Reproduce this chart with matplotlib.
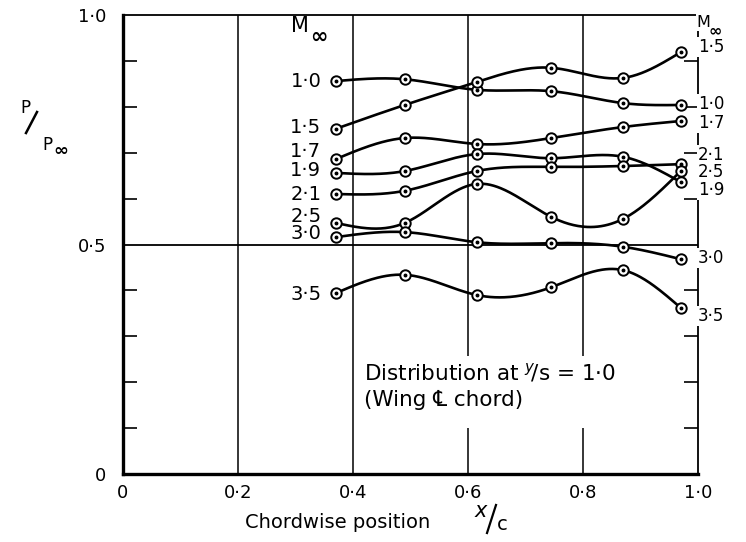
import numpy as np
import matplotlib
matplotlib.use("Agg")
import matplotlib.pyplot as plt
from matplotlib.lines import Line2D
from matplotlib.patches import Rectangle

# Chordwise stations (x/c) where pressures were measured
x_c = [0.37, 0.49, 0.615, 0.745, 0.87, 0.97]

# p/p_inf at each station, one list per free-stream Mach number
p_m10 = [0.856, 0.860, 0.837, 0.834, 0.808, 0.804]
p_m15 = [0.752, 0.804, 0.854, 0.885, 0.863, 0.919]
p_m17 = [0.686, 0.732, 0.719, 0.732, 0.756, 0.769]
p_m19 = [0.656, 0.660, 0.697, 0.688, 0.691, 0.636]
p_m21 = [0.610, 0.617, 0.660, 0.669, 0.671, 0.675]
p_m25 = [0.547, 0.547, 0.632, 0.560, 0.556, 0.660]
p_m30 = [0.516, 0.527, 0.505, 0.503, 0.495, 0.468]
p_m35 = [0.394, 0.434, 0.390, 0.407, 0.444, 0.362]

mach_labels = ["1·0", "1·5", "1·7", "1·9", "2·1", "2·5", "3·0", "3·5"]
series = [p_m10, p_m15, p_m17, p_m19, p_m21, p_m25, p_m30, p_m35]

x_ticks = [0, 0.2, 0.4, 0.6, 0.8, 1.0]
x_tick_labels = ["0", "0·2", "0·4", "0·6", "0·8", "1·0"]
y_ticks = [0, 0.5, 1.0]
y_tick_labels = ["0", "0·5", "1·0"]

# label placement (y of the Mach tags at both ends of each curve)
left_tag_y = [0.856, 0.754, 0.702, 0.662, 0.610, 0.562, 0.523, 0.392]
right_tag_y = [0.806, 0.930, 0.765, 0.619, 0.695, 0.658, 0.471, 0.344]

FONT = ["DejaVu Sans", "Noto Sans", "Noto Sans CJK SC"]
plt.rcParams["font.family"] = FONT
plt.rcParams["mathtext.fontset"] = "dejavusans"


def natural_spline(xs, ys, n=300):
    """Smooth curve through the measured points (natural cubic spline)."""
    xs = np.asarray(xs, float)
    ys = np.asarray(ys, float)
    k = len(xs)
    h = np.diff(xs)
    A = np.zeros((k, k))
    b = np.zeros(k)
    A[0, 0] = A[-1, -1] = 1.0
    for i in range(1, k - 1):
        A[i, i - 1] = h[i - 1]
        A[i, i] = 2 * (h[i - 1] + h[i])
        A[i, i + 1] = h[i]
        b[i] = 6 * ((ys[i + 1] - ys[i]) / h[i] - (ys[i] - ys[i - 1]) / h[i - 1])
    M = np.linalg.solve(A, b)
    xx = np.linspace(xs[0], xs[-1], n)
    idx = np.clip(np.searchsorted(xs, xx) - 1, 0, k - 2)
    x0, x1 = xs[idx], xs[idx + 1]
    hh = x1 - x0
    t0, t1 = x1 - xx, xx - x0
    yy = (M[idx] * t0 ** 3 / (6 * hh) + M[idx + 1] * t1 ** 3 / (6 * hh)
          + (ys[idx] / hh - M[idx] * hh / 6) * t0
          + (ys[idx + 1] / hh - M[idx + 1] * hh / 6) * t1)
    return xx, yy


fig = plt.figure(figsize=(7.46, 5.42), dpi=100)
W, H = 746, 542
ax = fig.add_axes([123 / W, 1 - 474 / H, (698 - 123) / W, (474 - 15) / H])
ax.set_xlim(0, 1)
ax.set_ylim(0, 1)

for side, lw in (("left", 2.4), ("bottom", 2.4), ("top", 1.3), ("right", 1.3)):
    ax.spines[side].set_linewidth(lw)
    ax.spines[side].set_zorder(2.5)

ax.set_xticks(x_ticks, labels=x_tick_labels)
ax.set_yticks(y_ticks, labels=y_tick_labels)
ax.set_yticks([0.1, 0.2, 0.3, 0.4, 0.6, 0.7, 0.8, 0.9], minor=True)
ax.tick_params(axis="x", length=0, pad=7, labelsize=13)
ax.tick_params(axis="y", which="major", length=0, pad=12, labelsize=13)
ax.tick_params(axis="y", which="minor", direction="in", length=10, width=1.2,
               left=True, right=True)

for gx in x_ticks[1:-1]:
    ax.axvline(gx, color="black", lw=1.1, zorder=1)
ax.axhline(0.5, color="black", lw=1.3, zorder=1)

for vals in series:
    xx, yy = natural_spline(x_c, vals)
    ax.plot(xx, yy, color="black", lw=1.9, zorder=4, solid_capstyle="round")
    ax.plot(x_c, vals, linestyle="none", marker="o", ms=7.5, mfc="white",
            mec="black", mew=1.4, zorder=5)
    ax.plot(x_c, vals, linestyle="none", marker="o", ms=1.8, mfc="black",
            mec="black", zorder=6)

# Mach number tags at the leading and trailing ends of each curve
for lab, yl, yr in zip(mach_labels, left_tag_y, right_tag_y):
    ax.text(0.345, yl, lab, ha="right", va="center", fontsize=14, zorder=7)
    ax.text(1.0, yr, lab, ha="left", va="center", fontsize=12, zorder=7,
            bbox=dict(facecolor="white", edgecolor="none", pad=0.8))

ax.text(0.293, 0.975, "M", ha="left", va="center", fontsize=15)
ax.text(0.325, 0.952, "∞", ha="left", va="center", fontsize=15, fontweight="bold")
ax.text(0.998, 0.983, "M", ha="left", va="center", fontsize=11.5, zorder=7,
        bbox=dict(facecolor="white", edgecolor="none", pad=0.8))
ax.text(1.019, 0.965, "∞", ha="left", va="center", fontsize=11.5,
        fontweight="bold", zorder=7)

# note box: white backing interrupts the grid lines behind it
ax.add_patch(Rectangle((0.415, 0.100), 0.45, 0.157, facecolor="white",
                       edgecolor="none", zorder=2))
ax.text(0.4185, 0.193, "Distribution at $^{y}\\!/$s = 1·0\n(Wing ℄ chord)",
        ha="left", va="center", fontsize=15.5, linespacing=1.4, zorder=7)

# axis titles
fig.text(245 / W, 1 - 522 / H, "Chordwise position", ha="left", va="center",
         fontsize=14)
fig.text(474 / W, 1 - 511 / H, "$x$", ha="left", va="center", fontsize=15)
fig.add_artist(Line2D([487 / W, 496 / W], [1 - 533 / H, 1 - 505 / H],
                      color="black", lw=1.6, transform=fig.transFigure))
fig.text(497 / W, 1 - 524 / H, "c", ha="left", va="center", fontsize=14)

fig.text(25 / W, 1 - 108 / H, "P", ha="center", va="center", fontsize=12)
fig.add_artist(Line2D([26 / W, 37 / W], [1 - 133 / H, 1 - 112 / H],
                      color="black", lw=1.8, transform=fig.transFigure))
fig.text(47 / W, 1 - 145 / H, "P", ha="center", va="center", fontsize=12)
fig.text(61 / W, 1 - 151 / H, "∞", ha="center", va="center", fontsize=13,
         fontweight="bold")

fig.savefig("out.png", dpi=100, facecolor="white")
